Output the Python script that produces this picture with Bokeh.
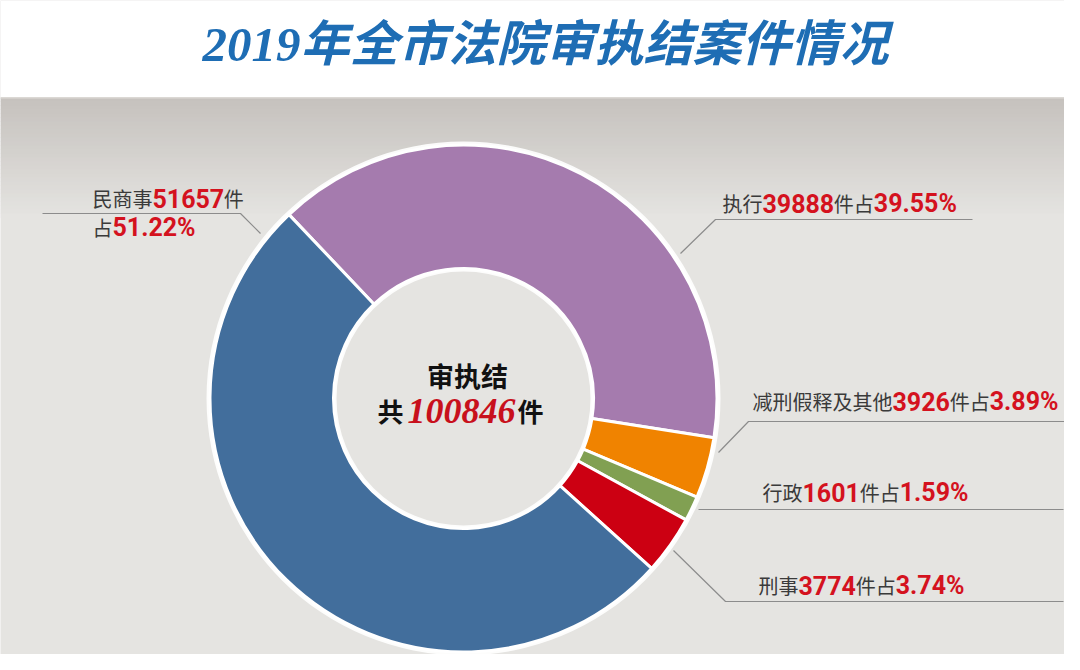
import math
from bokeh.plotting import figure
from bokeh.models import Range1d, ColumnDataSource
from bokeh.core.properties import value
from bokeh.embed import file_html
from bokeh.resources import INLINE

# ---------------- data ----------------
title_text = "2019年全市法院审执结案件情况"
categories = ["执行", "减刑假释及其他", "行政", "刑事", "民商事"]
counts = [39888, 3926, 1601, 3774, 51657]
pct_text = ["39.55%", "3.89%", "1.59%", "3.74%", "51.22%"]
colors = ["#a57bae", "#f08300", "#81a052", "#cc0012", "#426e9c"]
center_title = "审执结"
total_count = 100846

# ---------------- layout helpers ----------------
H = 670
def Y(y):
    return H - y

BG = "#e5e4e1"
p = figure(width=1064, height=654, x_range=Range1d(0, 1064), y_range=Range1d(16, 670),
           output_backend="svg", toolbar_location=None, x_axis_type=None, y_axis_type=None,
           min_border=0)
p.outline_line_color = None
p.background_fill_color = BG
p.border_fill_color = BG

# background gradient under banner
N = 30
c0 = (198, 194, 190)
c1 = (229, 228, 225)
for i in range(N):
    t = i / (N - 1)
    col = "#%02x%02x%02x" % tuple(int(c0[k] + (c1[k] - c0[k]) * t) for k in range(3))
    ya = 97 + i * 4
    p.quad(left=0, right=1080, top=Y(ya), bottom=Y(ya + 4.5), fill_color=col, line_color=None)

# banner
p.quad(left=0, right=1080, top=Y(0), bottom=Y(97), fill_color="white", line_color=None)
p.line(x=[0, 1080], y=[Y(97.5), Y(97.5)], line_color="#d6d2ce", line_width=1.5)

p.text(x=[545], y=[Y(44)], text=[title_text],
       text_font=value("Liberation Serif, Noto Sans CJK SC"), text_font_size="49px",
       text_font_style="bold italic", text_color="#1e6db4",
       text_align="center", text_baseline="middle")

# ---------------- donut ----------------
cx, cy = 463, Y(398)
theta0 = -43.5  # clockwise from 12 o'clock
tot = sum(counts)
starts, ends = [], []
acc = 0.0
for c in counts:
    t0 = theta0 + 360 * acc
    acc += c / tot
    t1 = theta0 + 360 * acc
    starts.append(math.radians(90 - t0))
    ends.append(math.radians(90 - t1))

p.annulus(x=cx, y=cy, inner_radius=127, outer_radius=257, fill_color="white",
          fill_alpha=0.9, line_color=None)
src = ColumnDataSource(dict(start=starts, end=ends, color=colors, cat=categories))
p.annular_wedge(x=cx, y=cy, inner_radius=130, outer_radius=253.5, start_angle="start",
                end_angle="end", direction="clock", fill_color="color", line_color="white",
                line_width=3, source=src)

# ---------------- labels ----------------
CJK_FONT = "Noto Sans CJK SC"
NUM_FONT = "Roboto"
CJK_SIZE = 20
NUM_SIZE = 25
TXT_COL = "#3a3a3a"
RED = "#d4121e"

def seg_width(s, kind):
    size = CJK_SIZE if kind == "cjk" else NUM_SIZE
    w = 0.0
    for ch in s:
        if ord(ch) >= 0x2E80:
            w += size
        elif ch.isdigit():
            w += 0.5625 * size
        elif ch == "%":
            w += 0.73 * size
        elif ch == ".":
            w += 0.27 * size
        else:
            w += 0.3 * size
    return w

cjk = dict(x=[], y=[], t=[])
num = dict(x=[], y=[], t=[])

def rich(x, yc, segs):
    for s, kind in segs:
        d = cjk if kind == "cjk" else num
        d["x"].append(x)
        d["y"].append(Y(yc))
        d["t"].append(s)
        x += seg_width(s, kind) + (1 if kind == "num" else 0)

# label anchor positions (reference pixel coords): (x_left, y_center)
label_pos = {
    "执行": (722, 203),
    "减刑假释及其他": (752, 401),
    "行政": (762, 492),
    "刑事": (758, 585),
}
for cat, cnt, pct in zip(categories, counts, pct_text):
    if cat == "民商事":
        rich(92, 198, [(cat, "cjk"), (str(cnt), "num"), ("件", "cjk")])
        rich(92, 227, [("占", "cjk"), (pct, "num")])
    else:
        x0, yc = label_pos[cat]
        rich(x0, yc, [(cat, "cjk"), (str(cnt), "num"), ("件占", "cjk"), (pct, "num")])

p.text(x="x", y="y", text="t", source=ColumnDataSource(cjk), text_font=value(CJK_FONT),
       text_font_size=f"{CJK_SIZE}px", text_color=TXT_COL, text_align="left",
       text_baseline="middle")
p.text(x="x", y="y", text="t", source=ColumnDataSource(num), text_font=value(NUM_FONT),
       text_font_size=f"{NUM_SIZE}px", text_font_style="bold", text_color=RED,
       text_align="left", text_baseline="middle")

# leader lines
lead_x = [[42, 240, 260], [680, 715, 972], [718, 748, 1065], [698, 1063], [673, 725, 1063]]
lead_y = [[213, 213, 233], [253, 219, 219], [452, 421, 421], [509, 509], [550, 601, 601]]
p.multi_line(xs=lead_x, ys=[[Y(v) for v in ys] for ys in lead_y], line_color="#8c8c8c",
             line_width=1.2)

# ---------------- center text ----------------
p.text(x=[467], y=[Y(375)], text=[center_title], text_font=value(CJK_FONT),
       text_font_size="27px", text_font_style="bold", text_color="#111111",
       text_align="center", text_baseline="middle")
p.text(x=[377, 517], y=[Y(410), Y(410)], text=["共", "件"], text_font=value(CJK_FONT),
       text_font_size="26px", text_font_style="bold", text_color="#111111",
       text_align="left", text_baseline="middle")
p.text(x=[407], y=[Y(410)], text=[str(total_count)], text_font=value("Liberation Serif"),
       text_font_size="36px", text_font_style="bold italic", text_color="#c8101c",
       text_align="left", text_baseline="middle")

open("out.html", "w").write(file_html(p, INLINE))
